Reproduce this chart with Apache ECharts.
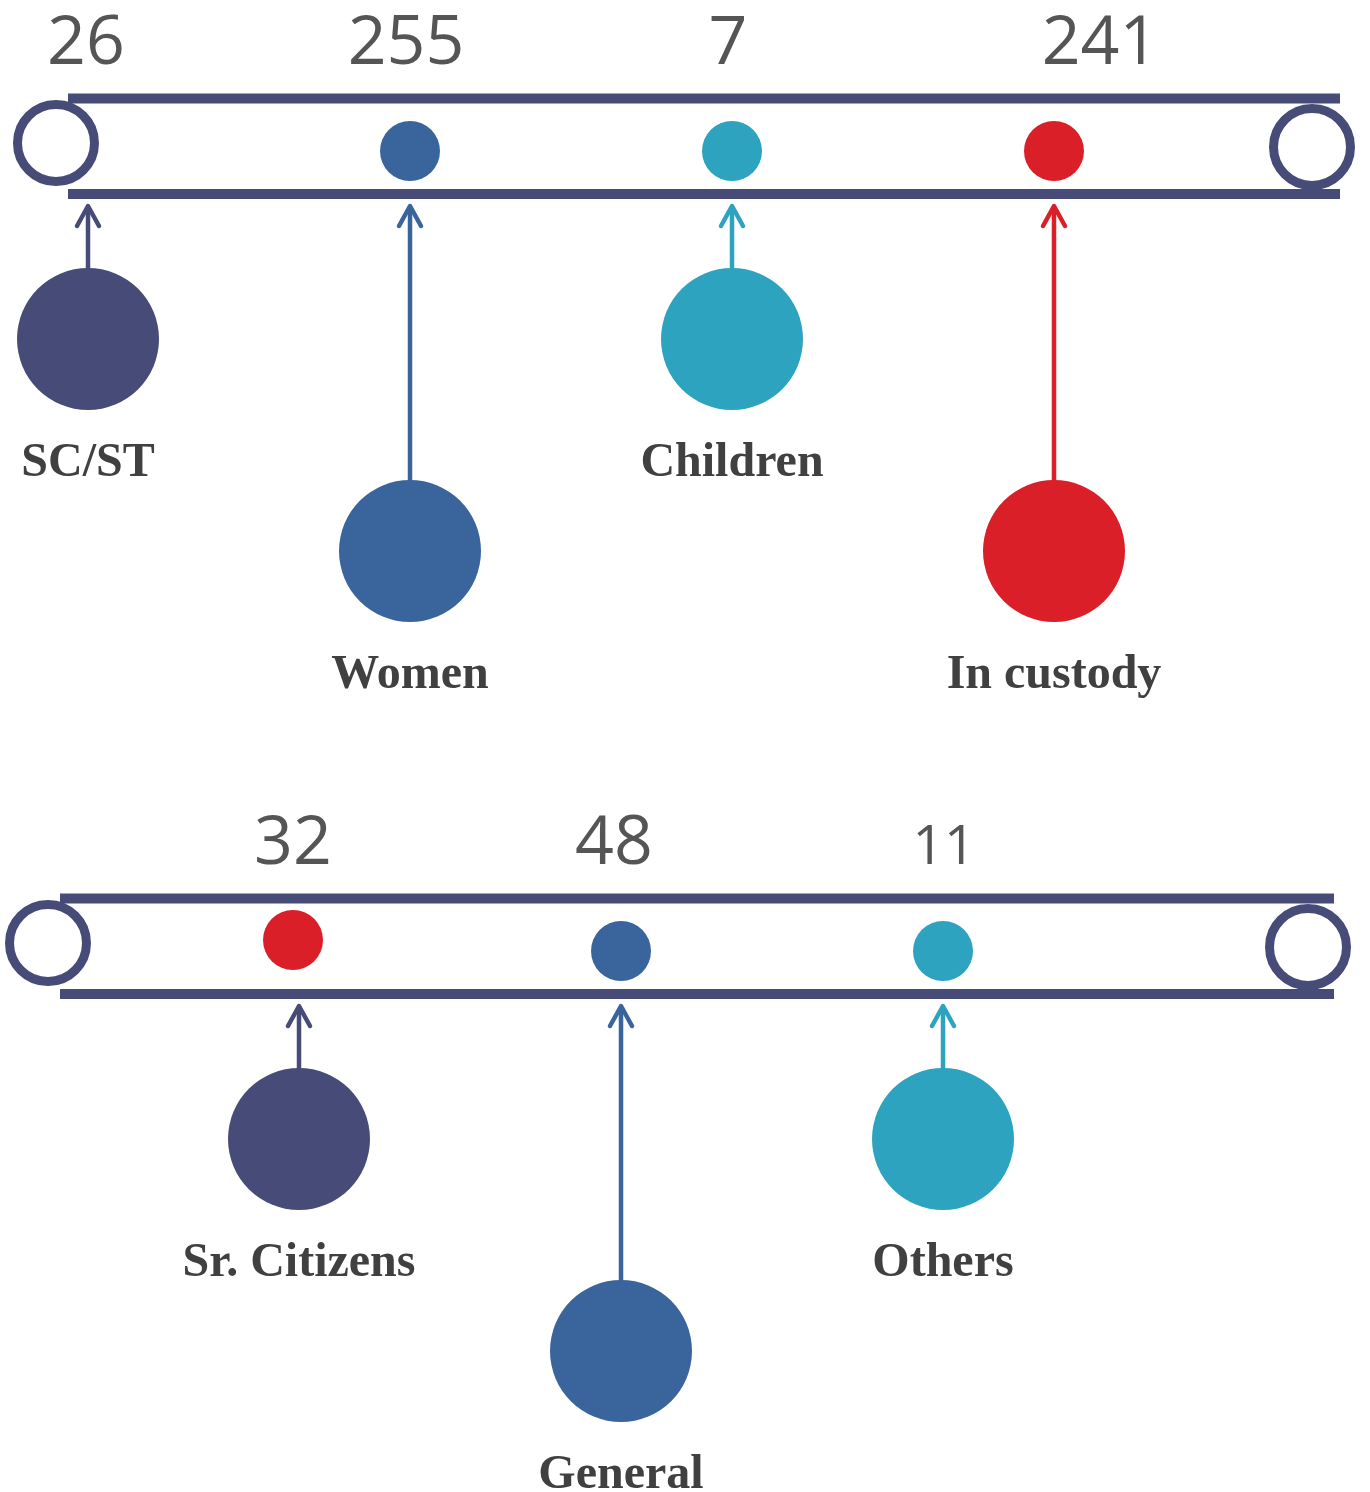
<!DOCTYPE html>
<html>
<head>
<meta charset="utf-8">
<title>Cases by category</title>
<script src="https://cdn.jsdelivr.net/npm/echarts@6/dist/echarts.min.js"></script>
<style>
  html, body { margin: 0; padding: 0; background: #fff; }
  #chart { width: 1370px; height: 1492px; }
</style>
</head>
<body>
<div id="chart"></div>
<script>
// data
const row1Labels = ['SC/ST', 'Women', 'Children', 'In custody']
const row1Values = [26, 255, 7, 241]
const row2Labels = ['Sr. Citizens', 'General', 'Others']
const row2Values = [32, 48, 11]

// colours
const NAVY = '#474B77'
const BLUE = '#39649C'
const TEAL = '#2DA3BF'
const RED = '#DA1F29'
const row1CircleColors = [NAVY, BLUE, TEAL, RED]
const row1DotColors = [null, BLUE, TEAL, RED]
const row2CircleColors = [NAVY, BLUE, TEAL]
const row2DotColors = [RED, BLUE, TEAL]

// layout (pixel units of the hidden axes)
const STEP = 322
const rows = [
  {
    labels: row1Labels, values: row1Values,
    circleColors: row1CircleColors, dotColors: row1DotColors,
    top: 0, x0: 88, trackL: 68, trackR: 1340, ringL: 56, ringR: 1312,
    valueShift: [-2, -4, -4, 46], valueSize: [68, 68, 68, 68],
    dotDx: [0, 0, 0, 0], dotDy: [0, 0, 0, 0]
  },
  {
    labels: row2Labels, values: row2Values,
    circleColors: row2CircleColors, dotColors: row2DotColors,
    top: 800, x0: 299, trackL: 60, trackR: 1334, ringL: 48, ringR: 1308,
    valueShift: [-6, -7, 1], valueSize: [68, 68, 55],
    dotDx: [-6, 0, 0], dotDy: [-11, 0, 0]
  }
]

// one entry per category, built from the arrays above
const items = []
rows.forEach((row, r) => {
  row.labels.forEach((label, i) => {
    items.push({
      name: label,
      value: [row.x0 + STEP * i, row.top + (i % 2 ? 551 : 339), row.values[i], r, i]
    })
  })
})

const chart = echarts.init(document.getElementById('chart'), null, { renderer: 'canvas' })

const renderTrack = (params, api) => {
  const row = rows[api.value(0)]
  const t = row.top
  const P = (x, y) => api.coord([x, y])
  const line = (a, b) => ({
    type: 'line',
    shape: { x1: a[0], y1: a[1], x2: b[0], y2: b[1] },
    style: { stroke: NAVY, lineWidth: 10 }
  })
  const ring = (c) => ({
    type: 'circle',
    shape: { cx: c[0], cy: c[1], r: api.size([38.5, 0])[0] },
    style: { fill: '#fff', stroke: NAVY, lineWidth: 9 }
  })
  return {
    type: 'group',
    children: [
      line(P(row.trackL, t + 98.5), P(row.trackR, t + 98.5)),
      line(P(row.trackL, t + 194), P(row.trackR, t + 194)),
      ring(P(row.ringL, t + 143)),
      ring(P(row.ringR, t + 147))
    ]
  }
}

const renderItem = (params, api) => {
  const x = api.value(0)
  const cy = api.value(1)
  const val = api.value(2)
  const r = api.value(3)
  const i = api.value(4)
  const row = rows[r]
  const t = row.top
  const name = row.labels[i]
  const color = row.circleColors[i]
  const dotColor = row.dotColors[i]
  const P = (px, py) => api.coord([px, py])
  const R = (len) => api.size([len, 0])[0]
  const bigR = 71
  const tipY = t + 206
  const children = []

  if (dotColor) {
    const d = P(x + row.dotDx[i], t + 151 + row.dotDy[i])
    children.push({ type: 'circle', shape: { cx: d[0], cy: d[1], r: R(30) }, style: { fill: dotColor } })
  }

  // arrow shaft and open head
  const tip = P(x, tipY)
  const base = P(x, cy - bigR + 2)
  const wl = P(x - 11, tipY + 20)
  const wr = P(x + 11, tipY + 20)
  const arrowStyle = { stroke: color, lineWidth: 4.5, lineCap: 'round', lineJoin: 'round', fill: null }
  children.push({ type: 'line', shape: { x1: base[0], y1: base[1], x2: tip[0], y2: tip[1] + 2 }, style: { stroke: color, lineWidth: 4.5 } })
  children.push({ type: 'polyline', shape: { points: [wl, tip, wr] }, style: arrowStyle })

  // big circle
  const c = P(x, cy)
  children.push({ type: 'circle', shape: { cx: c[0], cy: c[1], r: R(bigR) }, style: { fill: color } })

  // category label
  const lp = P(x, cy + 125)
  children.push({
    type: 'text',
    style: {
      text: name, x: lp[0], y: lp[1], fill: '#404040',
      font: 'bold 48px "Liberation Serif", serif',
      align: 'center', verticalAlign: 'middle', textAlign: 'center', textVerticalAlign: 'middle'
    }
  })

  // value above the track
  const size = row.valueSize[i]
  const vp = P(x + row.valueShift[i], t + 45 + (68 - size) * 0.25)
  children.push({
    type: 'text',
    style: {
      text: String(val), x: vp[0], y: vp[1], fill: '#555555',
      font: size + 'px "Open Sans", sans-serif',
      align: 'center', verticalAlign: 'middle', textAlign: 'center', textVerticalAlign: 'middle'
    }
  })

  return { type: 'group', children }
}

const option = {
  backgroundColor: '#ffffff',
  animation: false,
  tooltip: { show: false },
  grid: { left: 0, right: 0, top: 0, bottom: 0 },
  xAxis: { type: 'value', min: 0, max: 1370, show: false },
  yAxis: { type: 'value', min: 0, max: 1492, inverse: true, show: false },
  series: [
    {
      type: 'custom',
      name: 'tracks',
      silent: true,
      data: rows.map((row, r) => [r, row.top]),
      renderItem: renderTrack
    },
    {
      type: 'custom',
      name: 'categories',
      silent: true,
      data: items,
      renderItem: renderItem
    }
  ]
}

chart.setOption(option)
window.addEventListener('resize', () => chart.resize())
</script>
</body>
</html>
